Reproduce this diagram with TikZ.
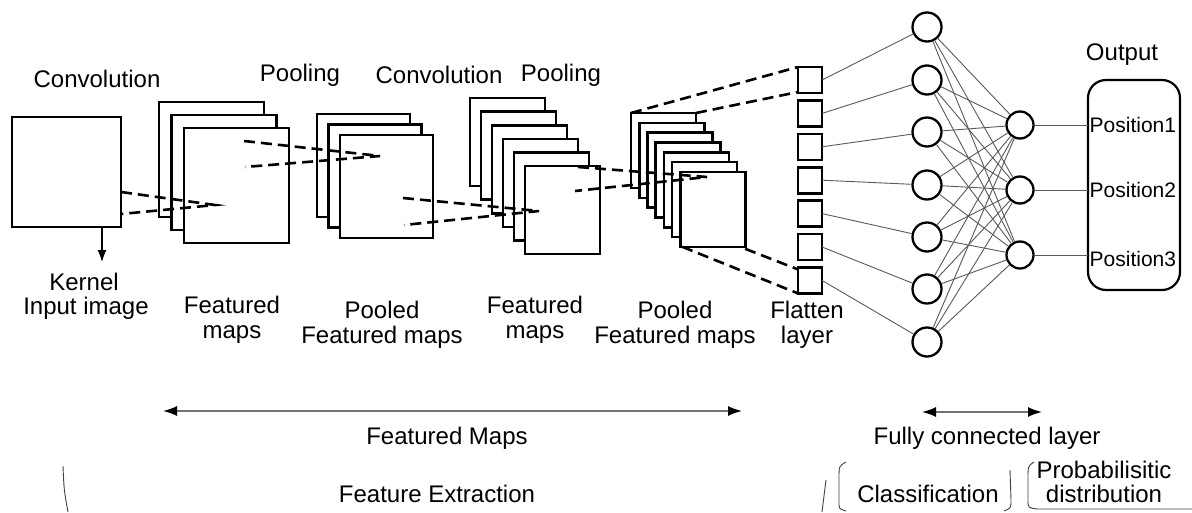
\documentclass[tikz,border=0pt]{standalone}
\usepackage{fontspec}
\setmainfont{Liberation Sans}
\usetikzlibrary{arrows.meta}
\begin{document}
\begin{tikzpicture}[x=1pt,y=-1pt,
  every node/.style={font=\fontsize{24}{24.5}\selectfont, align=center},
  fmap/.style={draw, line width=2.6pt, fill=white, inner sep=0pt, outer sep=0pt, anchor=north west},
  inbox/.style={fmap, minimum width=109pt, minimum height=110pt},
  gone/.style={fmap, minimum width=105pt, minimum height=115pt},
  gtwo/.style={fmap, minimum width=93pt, minimum height=103pt},
  gthree/.style={fmap, minimum width=75pt, minimum height=88pt},
  gfour/.style={fmap, minimum width=65pt, minimum height=75pt},
  fbox/.style={fmap, minimum width=24pt, minimum height=26pt},
  neuron/.style={circle, draw, line width=2.3pt, fill=white, inner sep=0pt, minimum size=#1},
  dashline/.style={line width=2.6pt, dash pattern=on 11pt off 6pt},
  link/.style={draw=black!65, line width=0.9pt},
  thinline/.style={draw=black!75, line width=0.9pt},
  biarrow/.style={draw=black!55, line width=1.6pt, arrows={Latex[length=14pt,width=10pt,color=black]-Latex[length=14pt,width=10pt,color=black]}},
  kerarrow/.style={draw=black, line width=1.2pt, arrows={-Latex[length=12pt,width=9pt]}},
  outbox/.style={draw, line width=2.2pt, rounded corners=18pt, inner sep=0pt, outer sep=0pt, anchor=north west, minimum width=92pt, minimum height=210pt},
  poslbl/.style={font=\fontsize{21}{22}\selectfont, anchor=west, inner sep=1.5pt}
]
\useasboundingbox (0,0) rectangle (1192,512);

% input image
\node[inbox] (in) at (12,117) {};
\coordinate (kerend) at (102,262);
\draw[kerarrow] (kerend |- in.south) -- (kerend);

% convolution 1 feature maps
\foreach \i in {1,...,3}
  \node[gone] (a\i) at ({159+12.5*(\i-1)},{102+13*(\i-1)}) {};
% pooled 1
\foreach \i in {1,...,3}
  \node[gtwo] (b\i) at ({317+11.5*(\i-1)},{114+10.5*(\i-1)}) {};
% convolution 2
\foreach \i in {1,...,6}
  \node[gthree] (c\i) at ({470+11*(\i-1)},{98+13.6*(\i-1)}) {};
% pooled 2
\foreach \i in {1,...,7}
  \node[gfour] (d\i) at ({631+8.2*(\i-1)},{113+9.8*(\i-1)}) {};
% flatten
\foreach \i in {1,...,7}
  \node[fbox] (f\i) at (798,{67+33.4*(\i-1)}) {};

% dashed kernel projections
\coordinate (s1a) at (121,192); \coordinate (s1b) at (121,214); \coordinate (e1) at (215,205);
\coordinate (s2a) at (244,141); \coordinate (s2b) at (245,167); \coordinate (e2) at (380,156);
\coordinate (s3a) at (403,198); \coordinate (s3b) at (404,225); \coordinate (e3) at (539,211);
\coordinate (s4a) at (578,167); \coordinate (s4b) at (575,191); \coordinate (e4) at (707,177);
\draw[dashline] (s1a) -- (e1) -- (s1b);
\draw[dashline] (s2a) -- (e2) -- (s2b);
\draw[dashline] (s3a) -- (e3) -- (s3b);
\draw[dashline] (s4a) -- (e4) -- (s4b);
\draw[dashline] (d1.north west) -- (f1.north west);
\draw[dashline] (d1.north east) -- ([yshift=1pt]f1.south west);
\draw[dashline] ([xshift=2pt]d7.south west) -- (f7.south west);
\draw[dashline] ([yshift=-2pt]d7.south east) -- ([yshift=-2pt]f7.north west);

% hidden layer
\foreach \i/\y in {1/27,2/80,3/132,4/185,5/237,6/289,7/342}
  \node[neuron=29pt] (h\i) at (927,\y) {};
% output neurons
\foreach \j/\y in {1/125,2/190,3/255}
  \node[neuron=27pt] (o\j) at (1020,\y) {};

\foreach \i in {1,...,7}
  \draw[link] (f\i.east) -- (h\i);
\foreach \i in {1,...,7}
  \foreach \j in {1,2,3}
    \draw[link] (h\i) -- (o\j);

% output box
\node[outbox] (out) at (1088,80) {};
\node[poslbl] (p1) at (1088,125) {Position1};
\node[poslbl] (p2) at (1088,190) {Position2};
\node[poslbl] (p3) at (1088,259) {Position3};
\foreach \j in {1,2,3}
  \draw[link] (o\j) -- (o\j -| out.west);

% top labels
\node (tconv1) at (97,79) {Convolution};
\node (tpool1) at (300,75) {Pooling};
\node (tconv2) at (439,75) {Convolution};
\node (tpool2) at (561,75) {Pooling};
\node (tout) at (1122,55) {Output};

% bottom labels
\node (lker) at (84,282) {Kernel};
\node (lin) at (86,308) {Input image};
\node (lfm1) at (232,320) {Featured\\maps};
\node (lpf1) at (382,325) {Pooled\\Featured maps};
\node (lfm2) at (535,320) {Featured\\maps};
\node (lpf2) at (675,325) {Pooled\\Featured maps};
\node (lfl) at (807,325) {Flatten\\layer};

% span arrows
\coordinate (fmL) at (163,411); \coordinate (fmR) at (742,411);
\draw[biarrow] (fmL) -- (fmR);
\coordinate (fcL) at (922,412); \coordinate (fcR) at (1042,412);
\draw[biarrow] (fcL) -- (fcR);
\node (lfmaps) at (447,438) {Featured Maps};
\node (lfc) at (987,438) {Fully connected layer};
\node (lfe) at (437,494) {Feature Extraction};
\node (lcls) at (928,494) {Classification};
\node (lprob) at (1104,482) {Probabilisitic\\distribution};

% partial brace strokes
\draw[thinline] (63,466) .. controls (64,490) .. (68,512);
\draw[thinline] (826,480) -- (822,512);
\draw[thinline] (846,462) .. controls (839,466) .. (839,478) -- (839,502) .. controls (839,509) .. (846,511);
\draw[thinline] (1010,470) -- (1011,500) .. controls (1011,508) .. (1004,511);
\draw[thinline] (1034,462) .. controls (1028,466) .. (1028,478) -- (1028,500) .. controls (1028,508) .. (1038,509) -- (1192,509);
\end{tikzpicture}
\end{document}
